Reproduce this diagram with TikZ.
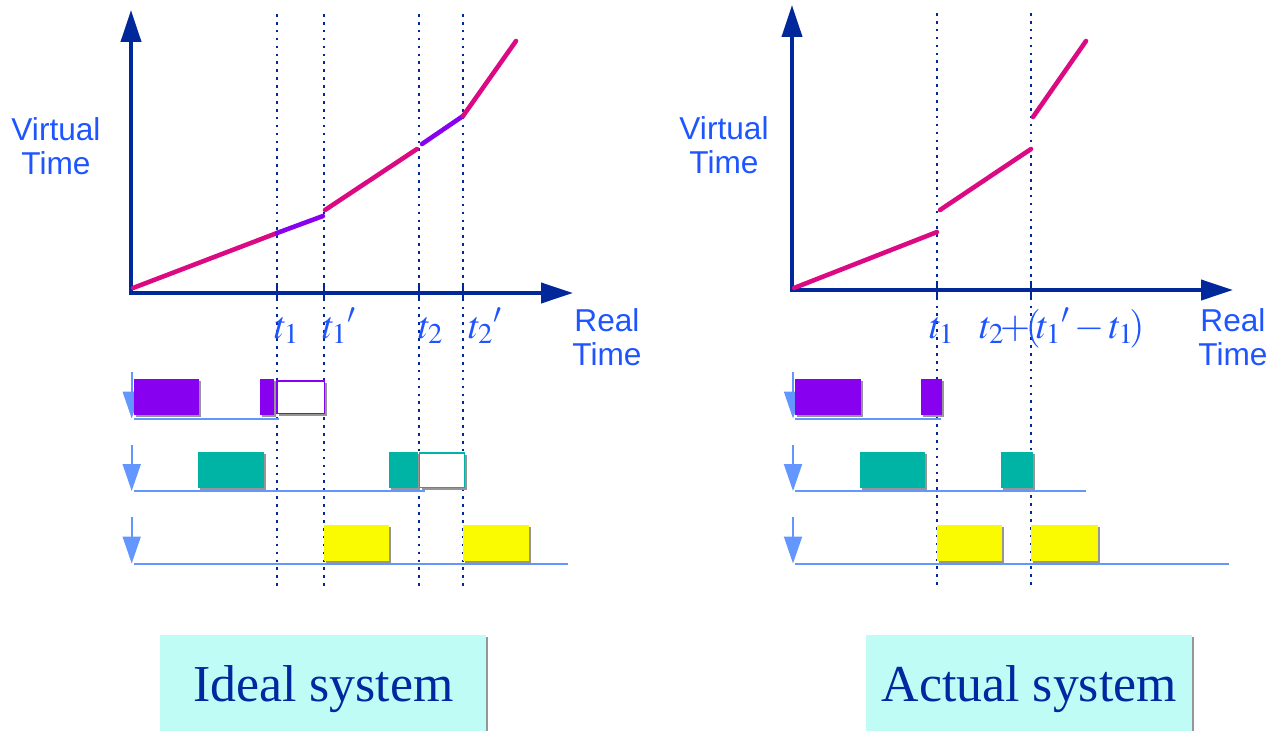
\documentclass[tikz,border=0pt]{standalone}
\usepackage{mathptmx}
\usepackage[no-math]{fontspec}
\setmainfont{Liberation Serif}
\newfontfamily\arialf{Liberation Sans}
\usetikzlibrary{arrows.meta, shadows}

\definecolor{axisblue}{RGB}{0,40,155}
\definecolor{lblblue}{RGB}{30,85,255}
\definecolor{rowblue}{RGB}{100,150,255}
\definecolor{curvemag}{RGB}{220,10,130}
\definecolor{curvepur}{RGB}{136,0,240}
\definecolor{jobpur}{RGB}{136,0,240}
\definecolor{jobteal}{RGB}{0,180,165}
\definecolor{jobyel}{RGB}{250,250,0}
\definecolor{shadowgray}{RGB}{150,150,150}
\definecolor{boxcyan}{RGB}{192,252,246}
\definecolor{titleblue}{RGB}{0,40,160}

\begin{document}
\begin{tikzpicture}[
    x=0.02cm, y=-0.02cm,
    axis/.style={draw=axisblue, line width=2.3pt,
                 {Triangle[length=0.64cm, width=0.4cm]}-{Triangle[length=0.64cm, width=0.4cm]}},
    axtick/.style={draw=axisblue, line width=1.2pt},
    guide/.style={draw=axisblue, line width=1.3pt, dash pattern=on 1.5pt off 3pt},
    seg/.style={line width=2.6pt, line cap=round},
    vlab/.style={font=\arialf\fontsize{18}{19.5}\selectfont, text=lblblue,
                 align=center, inner sep=0pt, anchor=north},
    tlab/.style={font=\fontsize{22}{26}\selectfont, text=lblblue, inner sep=0pt, anchor=base west},
    rowarr/.style={draw=rowblue, line width=1.1pt, -{Triangle[length=0.54cm, width=0.36cm]}},
    rowline/.style={draw=rowblue, line width=1.1pt},
    shade/.style={drop shadow={shadow xshift=0.04cm, shadow yshift=-0.04cm, fill=shadowgray, opacity=1}},
    job/.style={fill=#1, shade},
    slot/.style={draw=#1, line width=1.1pt, fill=white, shade},
    sysbox/.style={fill=boxcyan, text=titleblue, font=\fontsize{29.5}{32}\selectfont,
                   minimum width=6.52cm, minimum height=1.92cm, text depth=0pt,
                   inner sep=0pt, anchor=north west, shade}
]
\useasboundingbox (0,0) rectangle (1276,731);

% ideal system
\draw[guide] (277,14) -- (277,588);
\draw[guide] (324,14) -- (324,588);
\draw[guide] (419,14) -- (419,588);
\draw[guide] (463,14) -- (463,588);

\coordinate (o1) at (131,293);
\coordinate (ytip1) at (131,10);
\coordinate (xtip1) at (573,293);
\draw[axis] (ytip1) -- (o1) -- (xtip1);
\draw[axtick] (277,283) -- (277,300);
\draw[axtick] (324,283) -- (324,300);
\draw[axtick] (419,283) -- (419,300);
\draw[axtick] (463,283) -- (463,300);

\draw[seg, curvemag] (133,288) -- (277,233);
\draw[seg, curvepur] (277,233) -- (323,216);
\draw[seg, curvemag] (325,210) -- (417,149);
\draw[seg, curvepur] (422,144) -- (463,116);
\draw[seg, curvemag] (463,116) -- (516,41);

\node[vlab] (vt1) at (56,117) {Virtual\\Time};
\node[vlab] (rt1) at (607,308) {Real\\Time};
\node[tlab] (t1a) at (274,338) {$t_1$};
\node[tlab] (t1b) at (322,338) {${t_1}'$};
\node[tlab] (t2a) at (418,338) {$t_2$};
\node[tlab] (t2b) at (468,338) {${t_2}'$};

\draw[rowarr] (131.7,372) -- (131.7,418.5);
\draw[rowline] (134,418.7) -- (279,418.7);
\fill[job=jobpur] (134,379) rectangle (199,415);
\fill[job=jobpur] (260,379) rectangle (274,415);
\draw[slot=jobpur] (276.7,381) rectangle (324.5,413.5);

\draw[rowarr] (131.7,445) -- (131.7,491);
\draw[rowline] (134,491) -- (425,491);
\fill[job=jobteal] (198,452) rectangle (264,488);
\fill[job=jobteal] (389,452) rectangle (418,488);
\draw[slot=jobteal] (419.5,453) rectangle (464.5,487.5);

\draw[rowarr] (131.7,517) -- (131.7,563.5);
\draw[rowline] (134,563.7) -- (568,563.7);
\fill[job=jobyel] (324,525) rectangle (389,561);
\fill[job=jobyel] (463,525) rectangle (529,561);

\node[sysbox] (ideal) at (160,635) {Ideal system};

% actual system
\draw[guide] (937,13) -- (937,588);
\draw[guide] (1031,13) -- (1031,588);

\coordinate (o2) at (792,290);
\coordinate (ytip2) at (792,5);
\coordinate (xtip2) at (1233,290);
\draw[axis] (ytip2) -- (o2) -- (xtip2);
\draw[axtick] (937,281) -- (937,300);
\draw[axtick] (1031,281) -- (1031,300);

\draw[seg, curvemag] (794,288) -- (937,232);
\draw[seg, curvemag] (940,210) -- (1031,149);
\draw[seg, curvemag] (1033,117) -- (1086,41);

\node[vlab] (vt2) at (724,116) {Virtual\\Time};
\node[vlab] (rt2) at (1233,308) {Real\\Time};
\node[tlab] (t1c) at (929,338) {$t_1$};
\node[tlab] (shift) at (979,338) {$t_2\!{+}\!(\!{t_1}'\,{-}\,t_1\!)$};

\draw[rowarr] (793,372) -- (793,418.5);
\draw[rowline] (795,418.7) -- (941,418.7);
\fill[job=jobpur] (795,379) rectangle (861,415);
\fill[job=jobpur] (921,379) rectangle (942,415);

\draw[rowarr] (793,445) -- (793,491);
\draw[rowline] (795,491) -- (1086,491);
\fill[job=jobteal] (860,452) rectangle (925,488);
\fill[job=jobteal] (1001,452) rectangle (1033,488);

\draw[rowarr] (793,517) -- (793,563.5);
\draw[rowline] (795,563.7) -- (1229,563.7);
\fill[job=jobyel] (937,525) rectangle (1002,561);
\fill[job=jobyel] (1031,525) rectangle (1098,561);

\node[sysbox] (actual) at (866,635) {Actual system};
\end{tikzpicture}
\end{document}
